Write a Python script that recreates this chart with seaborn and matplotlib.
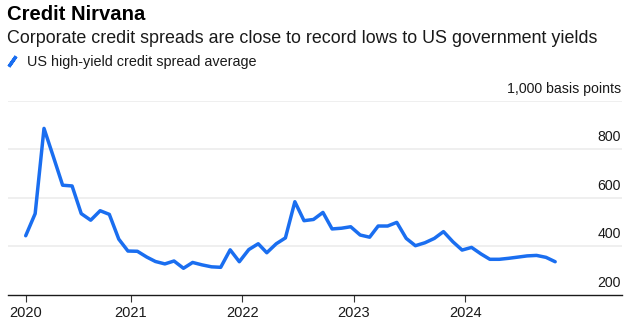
import matplotlib
matplotlib.use("Agg")
import matplotlib.pyplot as plt
import matplotlib.transforms as mtransforms
from matplotlib.lines import Line2D
import seaborn as sns
import pandas as pd

# ---- data ----
start_month = "2020-01-01"
n_months = 58
spread = [444, 535, 886, 768, 652, 649, 535, 508, 547, 532, 430, 381,
          380, 356, 338, 328, 340, 310, 334, 324, 316, 314, 386, 337,
          387, 411, 374, 411, 435, 584, 506, 511, 540, 472, 475, 481,
          447, 438, 484, 484, 499, 433, 403, 415, 433, 461, 419, 385,
          396, 369, 347, 347, 351, 356, 361, 363, 355, 337]
year_labels = ["2020", "2021", "2022", "2023", "2024"]
y_ticks = [200, 400, 600, 800, 1000]
y_tick_labels = ["200", "400", "600", "800", "1,000 basis points"]
series_name = "US high-yield credit spread average"

dates = pd.date_range(start_month, periods=n_months, freq="MS") + pd.Timedelta(days=21)
df = pd.DataFrame({"date": dates, "spread": spread})

BLUE = "#1a6ef0"
FONT = ["Liberation Sans", "DejaVu Sans"]

sns.set_theme(style="white")
plt.rcParams["font.family"] = FONT

fig = plt.figure(figsize=(6.28, 3.25), dpi=100)
W, H = 628, 325
ax = fig.add_axes([8 / W, 30 / H, 614 / W, (295 - 100.7) / H])

sns.lineplot(data=df, x="date", y="spread", ax=ax, color=BLUE, linewidth=2.5,
             legend=False)

ax.set_xlim(pd.Timestamp("2019-11-25"), pd.Timestamp("2025-05-29"))
ax.set_ylim(200, 1000)

# gridlines
for v in y_ticks[1:]:
    ax.axhline(v, color="#ececec", linewidth=1.2, zorder=0)
ax.set_yticks([])
ax.set_ylabel("")
ax.set_xlabel("")

for s in ["top", "right", "left"]:
    ax.spines[s].set_visible(False)
ax.spines["bottom"].set_color("#1a1a1a")
ax.spines["bottom"].set_linewidth(1.0)

xt = [dates[0]] + [pd.Timestamp(f"{y}-01-01") for y in year_labels[1:]]
ax.set_xticks(xt)
ax.set_xticklabels(year_labels)
ax.tick_params(axis="x", length=5, width=0.8, color="#333333", pad=3,
               labelsize=10.5, labelcolor="#1a1a1a", bottom=True)

# y labels above gridlines, right aligned
trans = mtransforms.offset_copy(ax.get_yaxis_transform(), fig=fig, x=-1, y=5, units="dots")
for v, lab in zip(y_ticks, y_tick_labels):
    ax.text(1.0, v, lab, transform=trans, ha="right", va="bottom",
            fontsize=10.2, color="#1a1a1a")

# titles
fig.text(7 / W, 1 - 14.5 / H, "Credit Nirvana", fontsize=14.6, fontweight="bold",
         va="center", ha="left", color="#000000")
fig.text(7 / W, 1 - 38.5 / H,
         "Corporate credit spreads are close to record lows to US government yields",
         fontsize=12.9, va="center", ha="left", color="#1a1a1a")

handle = Line2D([], [], color=BLUE, linestyle="none", marker=(2, 2, -35),
                markersize=9, markeredgewidth=2.4, markeredgecolor=BLUE)
fig.legend([handle], [series_name], loc="center left",
           bbox_to_anchor=(-2 / W, 1 - 62 / H), frameon=False,
           fontsize=10.4, handlelength=1.0, handletextpad=0.5, borderpad=0,
           labelcolor="#1a1a1a")

fig.savefig("out.png", dpi=100)
